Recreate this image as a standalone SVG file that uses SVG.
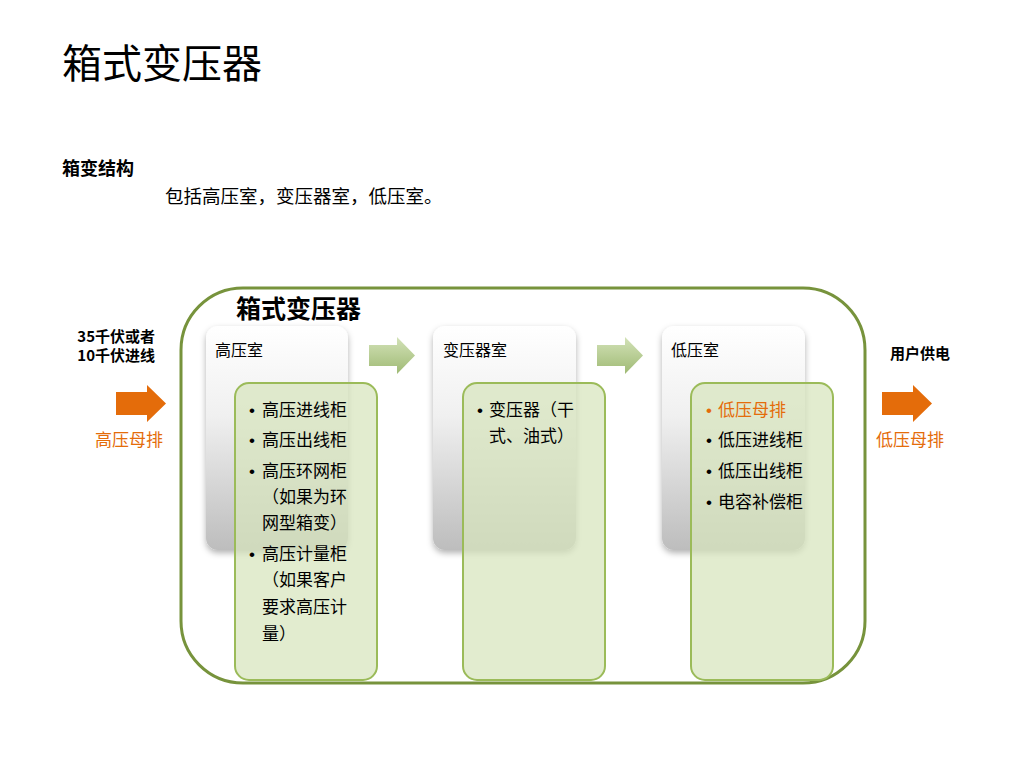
<svg xmlns="http://www.w3.org/2000/svg" width="1024" height="768" viewBox="0 0 1024 768">
<style>
text{font-family:"Microsoft YaHei","Noto Sans CJK SC","Noto Sans",sans-serif;fill:#000}
.bu{font-family:"Liberation Sans",Arial,sans-serif}
.b{font-weight:bold}
.h{font-size:16px}
.li{font-size:17px}
.or{fill:#E46C0A}
.room{fill:url(#gg);filter:url(#sh)}
.gb{fill:#d7e4bd;fill-opacity:0.72;stroke:#9bbb59;stroke-width:2}
.ga{fill:url(#ga)}
.oa{fill:#E46C0A}
</style>
<defs>
<linearGradient id="gg" x1="0" y1="0" x2="0" y2="1">
<stop offset="0" stop-color="#ffffff"/>
<stop offset="0.4" stop-color="#f0f0f0"/>
<stop offset="1" stop-color="#bdbdbd"/>
</linearGradient>
<linearGradient id="ga" x1="0" y1="0" x2="0" y2="1">
<stop offset="0" stop-color="#d3e2b8"/>
<stop offset="1" stop-color="#9fba74"/>
</linearGradient>
<filter id="sh" x="-20%" y="-20%" width="140%" height="140%">
<feDropShadow dx="0" dy="3" stdDeviation="3" flood-color="#000" flood-opacity="0.3"/>
</filter>
</defs>
<rect width="1024" height="768" fill="#fff"/>
<text x="62" y="78" font-size="40">箱式变压器</text>
<text x="62" y="175" font-size="18" class="b">箱变结构</text>
<text x="165" y="203" font-size="18.5">包括高压室，变压器室，低压室。</text>

<g id="container">
<rect x="181" y="288" width="684" height="395" rx="62" fill="none" stroke="#77933C" stroke-width="3"/>
<text x="236" y="318" font-size="25" class="b">箱式变压器</text>
</g>

<g id="input">
<text x="155" y="342" font-size="15" class="b" text-anchor="end">35千伏或者</text>
<text x="155" y="361" font-size="15" class="b" text-anchor="end">10千伏进线</text>
<polygon class="oa" points="116,392 147,392 147,385 166,403.5 147,422 147,415 116,415"/>
<text x="95" y="446" font-size="17" class="or">高压母排</text>
</g>

<g id="output">
<text x="890" y="359" font-size="15" class="b">用户供电</text>
<polygon class="oa" points="882,392 913,392 913,385 932,403.5 913,422 913,415 882,415"/>
<text x="876" y="446" font-size="17" class="or">低压母排</text>
</g>

<g id="connectors">
<polygon class="ga" points="369,345 397,345 397,337 415,355.5 397,374 397,366 369,366"/>
<polygon class="ga" points="597,345 625,345 625,337 643,355.5 625,374 625,366 597,366"/>
</g>

<g id="hv-room">
<rect class="room" x="206" y="326" width="142" height="224" rx="12"/>
<text x="215" y="356" class="h">高压室</text>
<rect class="gb" x="235" y="383" width="142" height="297" rx="14"/>
<g class="li">
<text x="249" y="416"><tspan class="bu">•</tspan><tspan x="262">高压进线柜</tspan></text>
<text x="249" y="446"><tspan class="bu">•</tspan><tspan x="262">高压出线柜</tspan></text>
<text x="249" y="477"><tspan class="bu">•</tspan><tspan x="262">高压环网柜</tspan></text>
<text x="262" y="503">（如果为环</text>
<text x="262" y="529">网型箱变）</text>
<text x="249" y="560"><tspan class="bu">•</tspan><tspan x="262">高压计量柜</tspan></text>
<text x="262" y="586">（如果客户</text>
<text x="262" y="613">要求高压计</text>
<text x="262" y="640">量）</text>
</g>
</g>

<g id="tr-room">
<rect class="room" x="433" y="326" width="143" height="224" rx="12"/>
<text x="443" y="356" class="h">变压器室</text>
<rect class="gb" x="463" y="383" width="142" height="297" rx="14"/>
<g class="li">
<text x="477" y="416"><tspan class="bu">•</tspan><tspan x="489">变压器（干</tspan></text>
<text x="489" y="442">式、油式）</text>
</g>
</g>

<g id="lv-room">
<rect class="room" x="662" y="326" width="143" height="224" rx="12"/>
<text x="671" y="356" class="h">低压室</text>
<rect class="gb" x="691" y="383" width="142" height="297" rx="14"/>
<g class="li">
<text x="706" y="416" class="or"><tspan class="bu">•</tspan><tspan x="718">低压母排</tspan></text>
<text x="706" y="446"><tspan class="bu">•</tspan><tspan x="718">低压进线柜</tspan></text>
<text x="706" y="477"><tspan class="bu">•</tspan><tspan x="718">低压出线柜</tspan></text>
<text x="706" y="508"><tspan class="bu">•</tspan><tspan x="718">电容补偿柜</tspan></text>
</g>
</g>
</svg>
